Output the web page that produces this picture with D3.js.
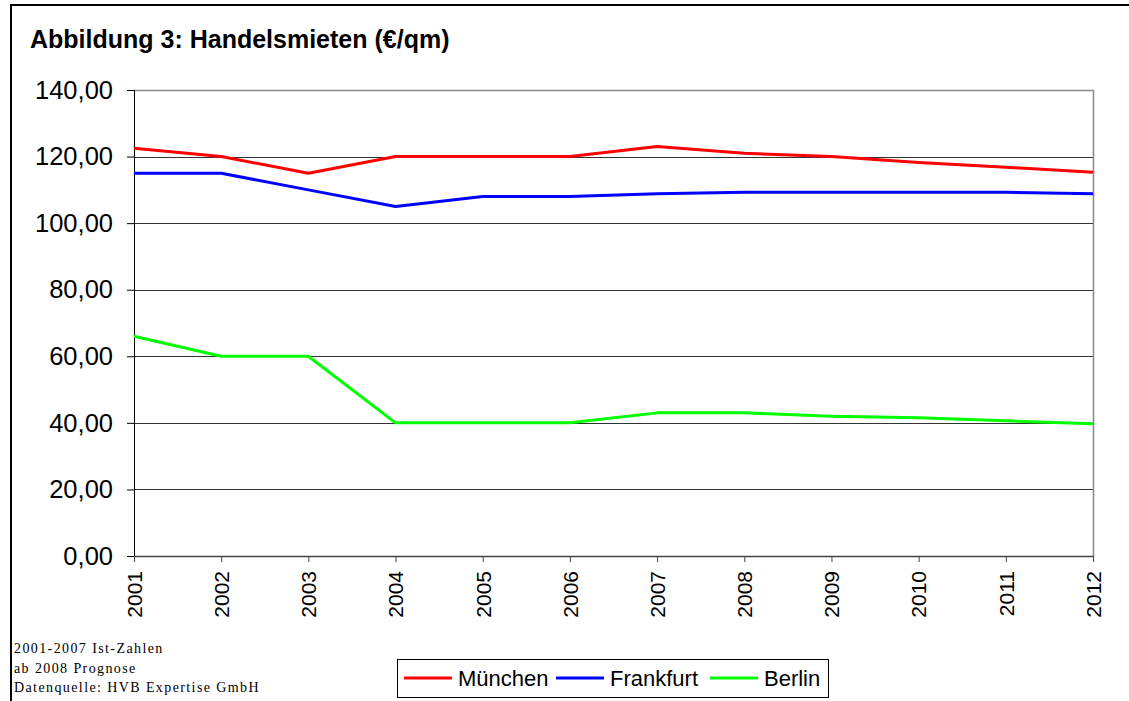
<!DOCTYPE html>
<html>
<head>
<meta charset="utf-8">
<script src="https://cdn.jsdelivr.net/npm/d3@7"></script>
<style>
  body { margin: 0; background: #fff; }
  svg { display: block; font-family: "Liberation Sans", Arial, sans-serif; }
</style>
</head>
<body>
<svg id="chart" width="1129" height="701"></svg>
<script>
// data
const years = ["2001","2002","2003","2004","2005","2006","2007","2008","2009","2010","2011","2012"];
const muenchen = [122.5, 120, 115, 120, 120, 120, 123, 121, 120, 118.2, 116.8, 115.3];
const frankfurt = [115, 115, 110, 105, 108, 108, 108.8, 109.3, 109.3, 109.3, 109.3, 108.8];
const berlin = [66, 60, 60, 40, 40, 40, 43, 43, 42, 41.5, 40.6, 39.7];
const yTicks = [0, 20, 40, 60, 80, 100, 120, 140];
const seriesNames = ["München", "Frankfurt", "Berlin"];
const seriesColors = ["#ff0000", "#0000ff", "#00ff00"];
const notes = ["2001-2007 Ist-Zahlen", "ab 2008 Prognose", "Datenquelle: HVB Expertise GmbH"];

(function() {
const svg = d3.select("#chart");

// outer frame (left + top)
svg.append("path")
  .attr("d", "M11,701 L11,5 L1129,5")
  .attr("fill", "none").attr("stroke", "#000").attr("stroke-width", 2);

svg.append("text")
  .attr("x", 30).attr("y", 48)
  .attr("font-size", 25).attr("font-weight", "bold")
  .text("Abbildung 3: Handelsmieten (€/qm)");

const pLeft = 134, pRight = 1093, pTop = 90, pBottom = 556;

const x = d3.scalePoint().domain(years).range([pLeft, pRight]);
const y = d3.scaleLinear().domain([0, 140]).range([pBottom, pTop]);

// gridlines
svg.append("g").selectAll("line")
  .data(yTicks.filter(d => d > 0 && d < 140))
  .join("line")
  .attr("x1", pLeft).attr("x2", pRight)
  .attr("y1", d => Math.round(y(d)) + 0.5).attr("y2", d => Math.round(y(d)) + 0.5)
  .attr("stroke", "#333").attr("stroke-width", 1);

// plot border top + right
svg.append("path")
  .attr("d", `M${pLeft},${pTop + 0.5} L${pRight + 0.5},${pTop + 0.5} L${pRight + 0.5},${pBottom}`)
  .attr("fill", "none").attr("stroke", "#888").attr("stroke-width", 1.5);

// y axis
const yAxis = svg.append("g")
  .attr("transform", `translate(${pLeft},0)`)
  .call(d3.axisLeft(y).tickValues(yTicks).tickSize(7).tickPadding(14)
    .tickFormat(d => d3.format(".2f")(d).replace(".", ",")));
yAxis.select(".domain").attr("stroke", "#000");
yAxis.selectAll(".tick line").attr("stroke", "#000");
yAxis.selectAll("text").attr("font-size", 25.5).attr("fill", "#000")
  .attr("font-family", "Liberation Sans, Arial, sans-serif");

// x axis
const xAxis = svg.append("g")
  .attr("transform", `translate(0,${pBottom})`)
  .call(d3.axisBottom(x).tickSize(6).tickSizeOuter(0));
xAxis.select(".domain").attr("stroke", "#444").attr("stroke-width", 1.5);
xAxis.selectAll(".tick line").attr("stroke", "#444");
xAxis.selectAll("text")
  .attr("font-size", 21).attr("fill", "#000")
  .attr("font-family", "Liberation Sans, Arial, sans-serif")
  .attr("transform", "rotate(-90)")
  .attr("text-anchor", "end")
  .attr("x", -15).attr("y", 0).attr("dy", "0.35em");

// lines
const line = d3.line().x((d, i) => x(years[i])).y(d => y(d));
[muenchen, frankfurt, berlin].forEach((vals, k) => {
  svg.append("path")
    .datum(vals)
    .attr("fill", "none")
    .attr("stroke", seriesColors[k])
    .attr("stroke-width", 3)
    .attr("stroke-linejoin", "round")
    .attr("d", line);
});

// notes
svg.append("g").selectAll("text")
  .data(notes).join("text")
  .attr("x", 14).attr("y", (d, i) => 653 + i * 19.5)
  .attr("font-family", "Liberation Serif, Times New Roman, serif")
  .attr("font-size", 14).attr("letter-spacing", 1.4)
  .text(d => d);

// legend
const lg = svg.append("g");
lg.append("rect")
  .attr("x", 397.5).attr("y", 659.5).attr("width", 431).attr("height", 38)
  .attr("fill", "#fff").attr("stroke", "#000").attr("stroke-width", 1);
const legendX = [404, 556, 710];
seriesNames.forEach((n, k) => {
  lg.append("line")
    .attr("x1", legendX[k]).attr("x2", legendX[k] + 48)
    .attr("y1", 678).attr("y2", 678)
    .attr("stroke", seriesColors[k]).attr("stroke-width", 3);
  lg.append("text")
    .attr("x", legendX[k] + 54).attr("y", 686)
    .attr("font-size", 22)
    .text(n);
});
})();
</script>
</body>
</html>
